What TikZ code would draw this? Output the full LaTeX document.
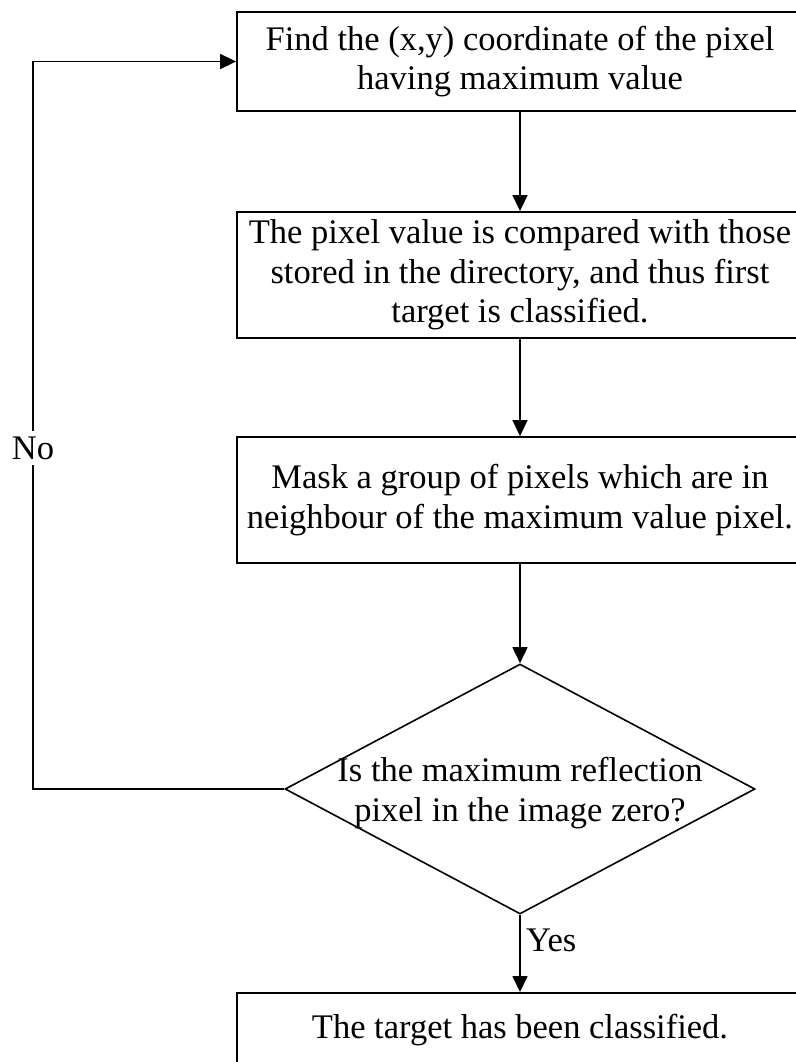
\documentclass[tikz,border=0pt]{standalone}
\usepackage{fontspec}
\setmainfont{Liberation Serif}
\usetikzlibrary{arrows.meta,shapes.geometric}
\begin{document}
\begin{tikzpicture}[x=1pt,y=-1pt,
  every node/.style={font=\fontsize{34.5}{39.5}\selectfont},
  procbox/.style={draw, line width=1.8pt, rectangle, minimum width=566pt, inner sep=0pt, align=center},
  decbox/.style={draw, line width=1.6pt, diamond, minimum width=470pt, minimum height=250pt, inner sep=0pt},
  flow/.style={line width=1.6pt, -{Triangle[length=16pt,width=15pt]}},
  lbl/.style={inner sep=0pt}]
\useasboundingbox (0,0) rectangle (795,1062);
\fill[white] (0,0) rectangle (795,1062);
\node[procbox, minimum height=99pt] (b1) at (520,61.5) {Find the (x,y) coordinate of the pixel\\having maximum value};
\node[procbox, minimum height=126pt] (b2) at (520,275) {The pixel value is compared with those\\stored in the directory, and thus first\\target is classified.};
\node[procbox, minimum height=126pt] (b3) at (520,500) {Mask a group of pixels which are in\\neighbour of the maximum value pixel.};
\node[decbox] (dia) at (520,789) {};
\node[lbl, align=center] (dtxt) at (520,793) {Is the maximum reflection\\pixel in the image zero?};
\node[procbox, anchor=north, inner ysep=21pt] (b4) at (520,992) {The target has been classified.};
\draw[flow] (b1) -- (b2);
\draw[flow] (b2) -- (b3);
\draw[flow] (b3) -- (dia);
\draw[flow] (dia) -- (b4);
\draw[flow] (dia.west) -- ++(-251,0) coordinate (lc) |- (b1.west);
\node[lbl, fill=white, inner sep=6pt] (no) at (33,448) {No};
\node[lbl, anchor=base west] (yes) at (526,951) {Yes};
\end{tikzpicture}
\end{document}
